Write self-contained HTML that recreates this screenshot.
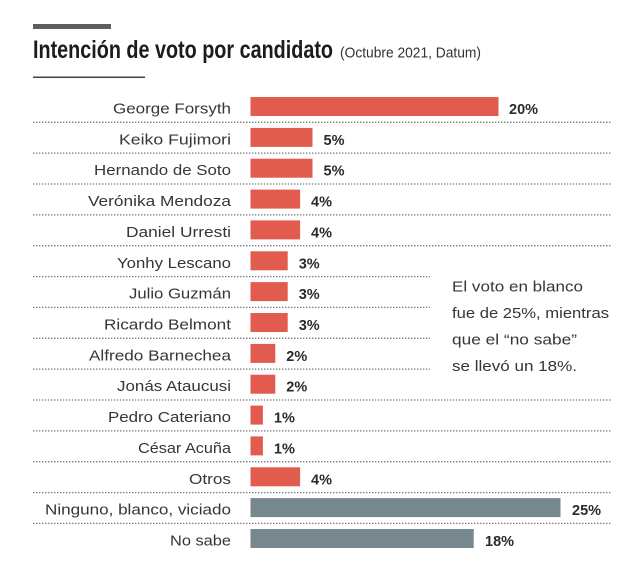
<!DOCTYPE html>
<html><head><meta charset="utf-8"><style>
html,body{margin:0;padding:0;background:#fff;}
svg{display:block;}
text{font-family:"Liberation Sans",Arial,sans-serif;}
.lb{font-size:15px;fill:#363636;text-anchor:start;}
.v{font-size:14.5px;font-weight:bold;fill:#2a2a2a;}
.an{font-size:15px;fill:#363636;}
</style></head><body>
<svg width="640" height="580" viewBox="0 0 640 580" xmlns="http://www.w3.org/2000/svg">
<rect width="640" height="580" fill="#fff"/>
<rect x="33" y="24" width="78" height="5" fill="#5e5e5e"/>
<text x="33" y="58" font-size="25" font-weight="bold" fill="#1c1c1c" textLength="300" lengthAdjust="spacingAndGlyphs">Intención de voto por candidato</text>
<text x="340" y="57.5" font-size="15" fill="#333" textLength="141" lengthAdjust="spacingAndGlyphs">(Octubre 2021, Datum)</text>
<rect x="33" y="76.5" width="112" height="1.5" fill="#444"/>

<g stroke="#7a7a7a" stroke-width="1.3" stroke-dasharray="1.4 1.6">
<line x1="33" x2="611" y1="122.3" y2="122.3"/>
<line x1="33" x2="611" y1="153.1" y2="153.1"/>
<line x1="33" x2="611" y1="184" y2="184"/>
<line x1="33" x2="611" y1="214.9" y2="214.9"/>
<line x1="33" x2="611" y1="245.7" y2="245.7"/>
<line x1="33" x2="430" y1="276.6" y2="276.6"/>
<line x1="33" x2="430" y1="307.4" y2="307.4"/>
<line x1="33" x2="430" y1="338.3" y2="338.3"/>
<line x1="33" x2="430" y1="369.1" y2="369.1"/>
<line x1="33" x2="611" y1="400" y2="400"/>
<line x1="33" x2="611" y1="430.9" y2="430.9"/>
<line x1="33" x2="611" y1="461.7" y2="461.7"/>
<line x1="33" x2="611" y1="492.6" y2="492.6"/>
<line x1="33" x2="611" y1="523.4" y2="523.4"/>
</g>

<g fill="#e15b4f">
<rect x="250.5" y="97" width="248" height="19"/>
<rect x="250.5" y="127.9" width="62" height="19"/>
<rect x="250.5" y="158.7" width="62" height="19"/>
<rect x="250.5" y="189.6" width="49.6" height="19"/>
<rect x="250.5" y="220.4" width="49.6" height="19"/>
<rect x="250.5" y="251.3" width="37.2" height="19"/>
<rect x="250.5" y="282.1" width="37.2" height="19"/>
<rect x="250.5" y="313" width="37.2" height="19"/>
<rect x="250.5" y="343.9" width="24.8" height="19"/>
<rect x="250.5" y="374.7" width="24.8" height="19"/>
<rect x="250.5" y="405.6" width="12.4" height="19"/>
<rect x="250.5" y="436.4" width="12.4" height="19"/>
<rect x="250.5" y="467.3" width="49.6" height="19"/>
</g>
<g fill="#77878e">
<rect x="250.5" y="498.1" width="310" height="19"/>
<rect x="250.5" y="529" width="223.2" height="19"/>
</g>

<g>
<text class="lb" x="113" y="113.5" textLength="118" lengthAdjust="spacingAndGlyphs">George Forsyth</text>
<text class="lb" x="119" y="144.4" textLength="112" lengthAdjust="spacingAndGlyphs">Keiko Fujimori</text>
<text class="lb" x="94" y="175.2" textLength="137" lengthAdjust="spacingAndGlyphs">Hernando de Soto</text>
<text class="lb" x="88" y="206.1" textLength="143" lengthAdjust="spacingAndGlyphs">Verónika Mendoza</text>
<text class="lb" x="126" y="236.9" textLength="105" lengthAdjust="spacingAndGlyphs">Daniel Urresti</text>
<text class="lb" x="117" y="267.8" textLength="114" lengthAdjust="spacingAndGlyphs">Yonhy Lescano</text>
<text class="lb" x="129" y="298.6" textLength="102" lengthAdjust="spacingAndGlyphs">Julio Guzmán</text>
<text class="lb" x="104" y="329.5" textLength="127" lengthAdjust="spacingAndGlyphs">Ricardo Belmont</text>
<text class="lb" x="89" y="360.4" textLength="142" lengthAdjust="spacingAndGlyphs">Alfredo Barnechea</text>
<text class="lb" x="117" y="391.2" textLength="114" lengthAdjust="spacingAndGlyphs">Jonás Ataucusi</text>
<text class="lb" x="108" y="422.1" textLength="123" lengthAdjust="spacingAndGlyphs">Pedro Cateriano</text>
<text class="lb" x="138" y="452.9" textLength="93" lengthAdjust="spacingAndGlyphs">César Acuña</text>
<text class="lb" x="189" y="483.8" textLength="42" lengthAdjust="spacingAndGlyphs">Otros</text>
<text class="lb" x="45" y="514.6" textLength="186" lengthAdjust="spacingAndGlyphs">Ninguno, blanco, viciado</text>
<text class="lb" x="170" y="545.5" textLength="61" lengthAdjust="spacingAndGlyphs">No sabe</text>
</g>

<g>
<text class="v" x="509" y="114">20%</text>
<text class="v" x="323.5" y="144.9">5%</text>
<text class="v" x="323.5" y="175.7">5%</text>
<text class="v" x="311" y="206.6">4%</text>
<text class="v" x="311" y="237.4">4%</text>
<text class="v" x="298.7" y="268.3">3%</text>
<text class="v" x="298.7" y="299.1">3%</text>
<text class="v" x="298.7" y="330">3%</text>
<text class="v" x="286.3" y="360.9">2%</text>
<text class="v" x="286.3" y="391.7">2%</text>
<text class="v" x="273.9" y="422.6">1%</text>
<text class="v" x="273.9" y="453.4">1%</text>
<text class="v" x="311" y="484.3">4%</text>
<text class="v" x="572" y="515.1">25%</text>
<text class="v" x="485" y="546">18%</text>
</g>

<text class="an" x="452" y="291.5" textLength="131" lengthAdjust="spacingAndGlyphs">El voto en blanco</text>
<text class="an" x="452" y="318" textLength="157" lengthAdjust="spacingAndGlyphs">fue de 25%, mientras</text>
<text class="an" x="452" y="344.5" textLength="125" lengthAdjust="spacingAndGlyphs">que el “no sabe”</text>
<text class="an" x="452" y="371" textLength="125" lengthAdjust="spacingAndGlyphs">se llevó un 18%.</text>
</svg>
</body></html>
